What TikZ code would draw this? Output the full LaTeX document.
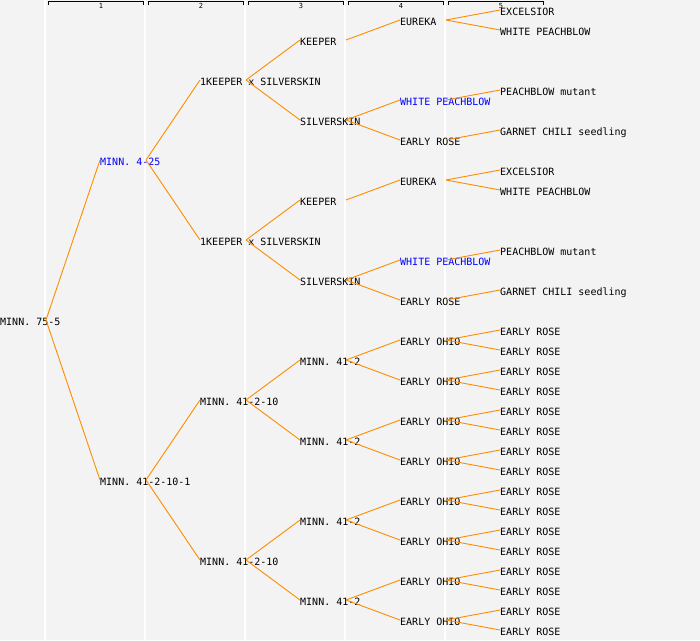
\documentclass[tikz,border=0pt]{standalone}
\usepackage{fontspec}
\setmonofont{DejaVu Sans Mono}
\definecolor{bgcol}{HTML}{F3F3F3}
\definecolor{linkcol}{HTML}{FF8C00}
\tikzset{
  plant/.style={anchor=west,inner sep=0pt,text height=10pt,text depth=0pt,font=\ttfamily\fontsize{10}{10}\selectfont},
  plantblue/.style={plant,text=blue},
  link/.style={linkcol,line width=0.9pt},
}
\begin{document}
\begin{tikzpicture}[x=1pt,y=-1pt]
		\fill[bgcol] (0,0) rectangle (700,640);
		\useasboundingbox (0,0) rectangle (700,640);
		%column separators
		\foreach \x in {45,145,...,445} \draw[white,line width=2pt] (\x,0) -- (\x,640);
		%generation brackets
		\foreach \i in {1,...,5} {
			\draw[black,line width=0.8pt] (100*\i-52,5) -- (100*\i-52,1.5) -- (100*\i+43,1.5) -- (100*\i+43,5);
			\node[inner sep=0pt,font=\ttfamily\fontsize{7}{7}\selectfont] at (100*\i+1,6) {\i};
		}
		%generations 0-2
		\node[plant] (n0) at (0,320) {MINN. 75-5};
		\node[plantblue] (n1a) at (100,160) {MINN. 4-25};
		\node[plant] (n1b) at (100,480) {MINN. 41-2-10-1};
		\node[plant] (n2a) at (200,80) {1KEEPER x SILVERSKIN};
		\node[plant] (n2b) at (200,240) {1KEEPER x SILVERSKIN};
		\node[plant] (n2c) at (200,400) {MINN. 41-2-10};
		\node[plant] (n2d) at (200,560) {MINN. 41-2-10};
		%generation 3
		\node[plant] (n3a) at (300,40) {KEEPER};
		\node[plant] (n3b) at (300,120) {SILVERSKIN};
		\node[plant] (n3c) at (300,200) {KEEPER};
		\node[plant] (n3d) at (300,280) {SILVERSKIN};
		\foreach \i in {1,...,4} \node[plant] (m\i) at (300,280+80*\i) {MINN. 41-2};
		%generation 4
		\node[plant] (n4a) at (400,20) {EUREKA};
		\node[plantblue] (n4b) at (400,100) {WHITE PEACHBLOW};
		\node[plant] (n4c) at (400,140) {EARLY ROSE};
		\node[plant] (n4d) at (400,180) {EUREKA};
		\node[plantblue] (n4e) at (400,260) {WHITE PEACHBLOW};
		\node[plant] (n4f) at (400,300) {EARLY ROSE};
		\foreach \i in {1,...,8} \node[plant] (eo\i) at (400,300+40*\i) {EARLY OHIO};
		%generation 5
		\node[plant] (n5a) at (500,10) {EXCELSIOR};
		\node[plant] (n5b) at (500,30) {WHITE PEACHBLOW};
		\node[plant] (n5c) at (500,90) {PEACHBLOW mutant};
		\node[plant] (n5d) at (500,130) {GARNET CHILI seedling};
		\node[plant] (n5e) at (500,170) {EXCELSIOR};
		\node[plant] (n5f) at (500,190) {WHITE PEACHBLOW};
		\node[plant] (n5g) at (500,250) {PEACHBLOW mutant};
		\node[plant] (n5h) at (500,290) {GARNET CHILI seedling};
		\foreach \i in {1,...,16} \node[plant] (er\i) at (500,310+20*\i) {EARLY ROSE};
		%parent to child links
		\foreach \p/\c in {n0/n1a,n0/n1b,n1a/n2a,n1a/n2b,n1b/n2c,n1b/n2d,
			n2a/n3a,n2a/n3b,n2b/n3c,n2b/n3d,n2c/m1,n2c/m2,n2d/m3,n2d/m4,
			n3a/n4a,n3b/n4b,n3b/n4c,n3c/n4d,n3d/n4e,n3d/n4f,
			n4a/n5a,n4a/n5b,n4b/n5c,n4c/n5d,n4d/n5e,n4d/n5f,n4e/n5g,n4f/n5h}
		\draw[link] ([xshift=46pt]\p.west) -- (\c.west);
		\foreach \i in {1,...,4} {
			\pgfmathtruncatemacro\kidA{2*\i-1}
			\pgfmathtruncatemacro\kidB{2*\i}
			\draw[link] ([xshift=46pt]m\i.west) -- (eo\kidA.west);
			\draw[link] ([xshift=46pt]m\i.west) -- (eo\kidB.west);
		}
		\foreach \i in {1,...,8} {
			\pgfmathtruncatemacro\kidA{2*\i-1}
			\pgfmathtruncatemacro\kidB{2*\i}
			\draw[link] ([xshift=46pt]eo\i.west) -- (er\kidA.west);
			\draw[link] ([xshift=46pt]eo\i.west) -- (er\kidB.west);
		}
\end{tikzpicture}
\end{document}
